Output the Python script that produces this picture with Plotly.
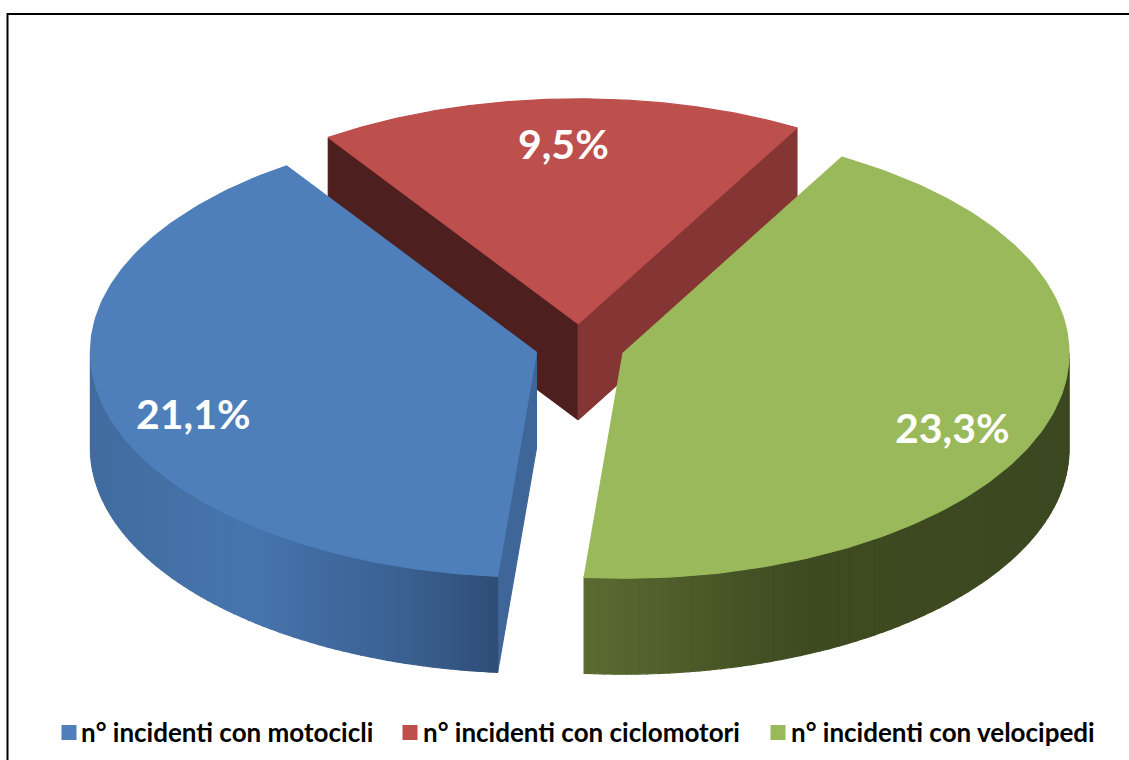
import numpy as np
import plotly.graph_objects as go

# --- data ---
categories = ["n° incidenti con motocicli", "n° incidenti con ciclomotori", "n° incidenti con velocipedi"]
values = [21.1, 9.5, 23.3]
labels = ["21,1%", "9,5%", "23,3%"]

# --- styling / geometry ---
top_colors = ["#4e7fba", "#bd4f4c", "#9ab95a"]
first_angle = 185.0
rx, ry, depth = 446.0, 225.0, 96.0
cx0, cy0, explode = 580.0, 346.5, 45.0
label_pos = [(193, 413), (563, 143), (952, 427)]
legend_key_x = [69, 410, 778]
legend_text_x = [78.5, 420.5, 788.5]
legend_key_y = 732.5
legend_text_y = 732
# wall gradients: (x pixel, colour)
blue_wall = [(90, (66, 108, 160)), (250, (71, 117, 174)), (400, (59, 97, 146)), (498, (47, 78, 118))]
green_wall = [(585, (92, 107, 50)), (700, (75, 90, 40)), (800, (63, 75, 33)), (1070, (60, 72, 32))]
red_left_face = "#4d1f1e"
red_right_face = "#843534"
blue_cut_face = "#3f6699"

fig = go.Figure()

def pt(c, th):
    t = np.radians(th)
    return c[0] + rx * np.sin(t), c[1] - ry * np.cos(t)

def poly(xs, ys, color):
    fig.add_trace(go.Scatter(x=list(xs), y=list(ys), mode="lines", fill="toself", fillcolor=color,
                             line=dict(color=color, width=1.2), hoverinfo="skip", showlegend=False))

def lerp(stops, x):
    xs = [s[0] for s in stops]
    return "rgb(%d,%d,%d)" % tuple(np.interp(x, xs, [s[1][i] for s in stops]) for i in range(3))

# slice angles from values (clockwise from north)
total = sum(values)
angles = []
a = first_angle
for v in values:
    b = a + 360 * v / total
    angles.append((a, b))
    a = b

centers = []
for a, b in angles:
    m = np.radians((a + b) / 2)
    centers.append((cx0 + explode * np.sin(m), cy0 - explode * ry / rx * np.cos(m)))

def wall(c, a, b, stops, n=70):
    th = np.linspace(a, b, n + 1)
    for i in range(n):
        x0, y0 = pt(c, th[i]); x1, y1 = pt(c, th[i + 1])
        poly([x0, x1, x1, x0, x0], [y0, y1, y1 + depth, y0 + depth, y0], lerp(stops, (x0 + x1) / 2))

def top(c, a, b, color):
    th = np.linspace(a, b, 160)
    xs, ys = pt(c, th)
    poly(np.r_[c[0], xs, c[0]], np.r_[c[1], ys, c[1]], color)

def cut(c, th, color):
    x, y = pt(c, th)
    poly([c[0], x, x, c[0], c[0]], [c[1], y, y + depth, c[1] + depth, c[1]], color)

# red slice (behind)
cut(centers[1], angles[1][0], red_left_face)
cut(centers[1], angles[1][1], red_right_face)
top(centers[1], *angles[1], top_colors[1])
# blue slice
cut(centers[0], angles[0][0], blue_cut_face)
wall(centers[0], angles[0][0], 270, blue_wall)
top(centers[0], *angles[0], top_colors[0])
# green slice: the front wall runs from due east to the slice's last angle
wall(centers[2], 450, angles[2][1], green_wall)
top(centers[2], *angles[2], top_colors[2])

# legend row: square key, with its text to the right
for name, col, kx, tx in zip(categories, top_colors, legend_key_x, legend_text_x):
    fig.add_trace(go.Scatter(x=[kx], y=[legend_key_y], mode="markers", name=name,
                             showlegend=False, hoverinfo="skip",
                             marker=dict(symbol="square", size=15, color=col)))
    fig.add_annotation(x=tx, y=legend_text_y, text=name, showarrow=False, xanchor="left",
                       font=dict(family="Lato", size=26, color="black", weight="bold"))

for (x, y), t in zip(label_pos, labels):
    fig.add_annotation(x=x, y=y, text=t, showarrow=False,
                       font=dict(family="Lato", size=41, color="white", weight="bold"))

# chart frame
fig.add_shape(type="rect", xref="x", yref="y", x0=7.5, y0=14, x1=1200, y1=800,
              line=dict(color="black", width=2), layer="below")

fig.update_layout(
    width=1129, height=760, margin=dict(l=0, r=0, t=0, b=0), showlegend=False,
    paper_bgcolor="white", plot_bgcolor="white",
    xaxis=dict(range=[0, 1129], visible=False, fixedrange=True),
    yaxis=dict(range=[760, 0], visible=False, fixedrange=True),
)
fig.write_html("out.html", config={"displayModeBar": False},
               post_script="document.body.style.margin='0';document.body.style.overflow='hidden';")
